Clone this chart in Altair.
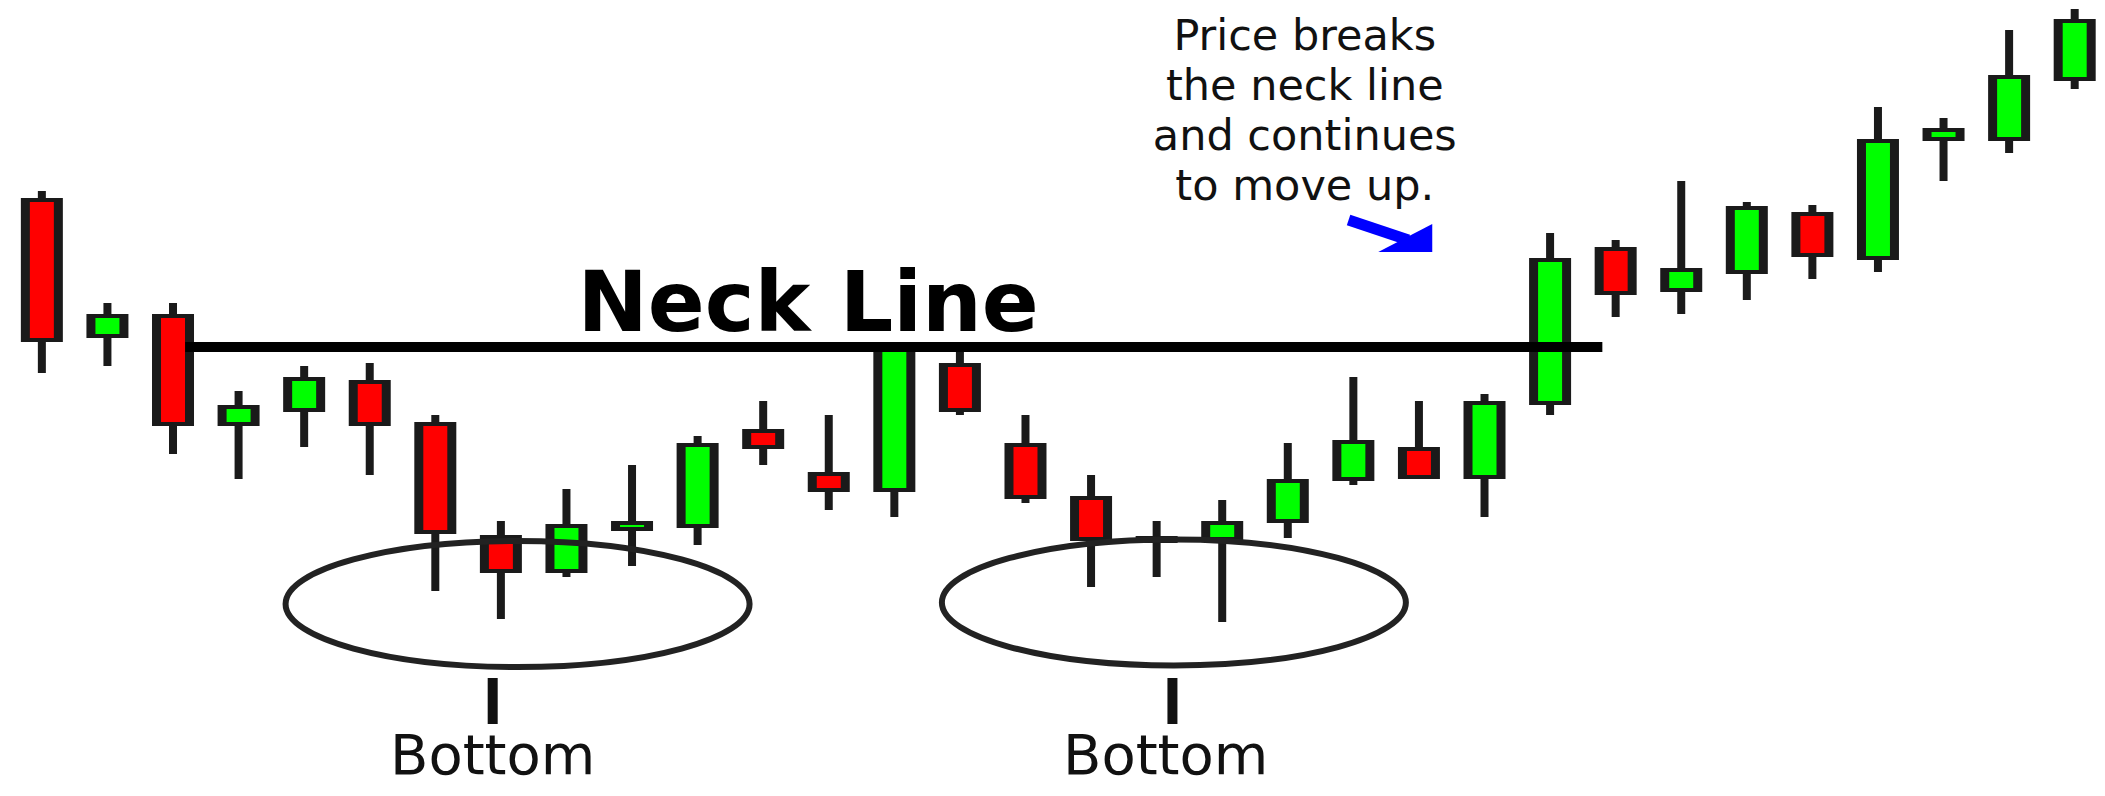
import altair as alt
import pandas as pd

# ---- candle data (arbitrary price units, higher = up) ----
candle = list(range(1, 33))
open_p = [602, 462, 486, 374, 388, 420, 378, 265, 227, 269, 272, 371, 328, 308, 437, 357,
          304, 264, 259, 277, 319, 353, 321, 395, 553, 508, 526, 588, 540, 659, 659, 719]
high_p = [609, 497, 497, 409, 434, 437, 385, 279, 311, 335, 364, 399, 385, 455, 450, 385,
          325, 279, 300, 357, 423, 399, 406, 567, 560, 619, 598, 595, 693, 682, 770, 791]
low_p = [427, 434, 346, 321, 353, 325, 209, 181, 223, 234, 255, 335, 290, 283, 385, 297,
         213, 223, 178, 262, 315, 321, 283, 385, 483, 486, 500, 521, 528, 619, 647, 711]
close_p = [458, 486, 374, 395, 423, 374, 266, 227, 276, 279, 357, 351, 308, 453, 388, 301,
           259, 257, 279, 321, 360, 321, 399, 542, 505, 532, 594, 543, 661, 672, 725, 781]

# ---- annotation texts ----
neck_label = "Neck Line"
note_lines = ["Price breaks", "the neck line", "and continues", "to move up."]
bottom_label = "Bottom"

# ---- annotation anchors (data coordinates: candle index, price) ----
neck_level = 453
neck_from, neck_to = 3.1855, 24.797
bottom_x = [8.2545, 18.263]
bottom_y = [196, 197.5]
stem_x = [7.875, 18.241]
label_x = [7.875, 18.138]
note_y = [750, 700, 650, 600]

df = pd.DataFrame({"candle": candle, "open": open_p, "high": high_p,
                   "low": low_p, "close": close_p})
df["top"] = df[["open", "close"]].max(axis=1)
df["bot"] = df[["open", "close"]].min(axis=1)
df["direction"] = ["up" if c > o else "down" for o, c in zip(open_p, close_p)]


def xs():
    return alt.Scale(domain=[0.5599, 32.264], nice=False, zero=False)


def ys():
    return alt.Scale(domain=[12, 792], nice=False, zero=False)


def X(f):
    return alt.X(f, scale=xs(), axis=None)


def Y(f):
    return alt.Y(f, scale=ys(), axis=None)


base = alt.Chart(df)

wicks = base.mark_rule(color="#1a1a1a", strokeWidth=8).encode(
    x=X("candle:Q"), y=Y("low:Q"), y2="high:Q")

outer = base.mark_bar(size=42, color="#1a1a1a").encode(
    x=X("candle:Q"), y=Y("top:Q"), y2="bot:Q")

inner = base.transform_filter("datum.top - datum.bot > 8").mark_bar(
    size=24, yOffset=4, y2Offset=-4).encode(
    x=X("candle:Q"), y=Y("top:Q"), y2="bot:Q",
    color=alt.Color("direction:N",
                    scale=alt.Scale(domain=["up", "down"], range=["#00ff00", "#ff0000"]),
                    legend=None))

neck_df = pd.DataFrame({"x": [neck_from], "x2": [neck_to], "y": [neck_level]})
neck = alt.Chart(neck_df).mark_rule(color="#000000", strokeWidth=10).encode(
    x=X("x:Q"), x2="x2:Q", y=Y("y:Q"))

neck_text_df = pd.DataFrame({"x": [12.686], "y": [469], "t": [neck_label]})
neck_text = alt.Chart(neck_text_df).mark_text(
    font="DejaVu Sans", fontWeight="bold", fontSize=84, color="#000000",
    align="center", baseline="alphabetic").encode(
    x=X("x:Q"), y=Y("y:Q"), text="t:N")

k = 0.2716
c = 0.5523
ellipse_path = (
    f"M -1 0 C -1 {-k*c:.4f} {-c} {-k} 0 {-k} "
    f"C {c} {-k} 1 {-k*c:.4f} 1 0 "
    f"C 1 {k*c:.4f} {c} {k} 0 {k} "
    f"C {-c} {k} -1 {k*c:.4f} -1 0 Z"
)
ell_df = pd.DataFrame({"x": bottom_x, "y": bottom_y})
ellipses = alt.Chart(ell_df).mark_point(
    shape=ellipse_path, size=464 * 464, filled=False, color="#222222",
    strokeWidth=6, opacity=1).encode(x=X("x:Q"), y=Y("y:Q"))

stem_df = pd.DataFrame({"x": stem_x, "y": [122, 122], "y2": [76, 76]})
stems = alt.Chart(stem_df).mark_rule(color="#111111", strokeWidth=10).encode(
    x=X("x:Q"), y=Y("y:Q"), y2="y2:Q")

blabel_df = pd.DataFrame({"x": label_x, "y": [26, 26], "t": [bottom_label, bottom_label]})
blabels = alt.Chart(blabel_df).mark_text(
    font="DejaVu Sans", fontSize=56, color="#111111",
    align="center", baseline="alphabetic").encode(
    x=X("x:Q"), y=Y("y:Q"), text="t:N")

note_df = pd.DataFrame({"x": [20.259] * 4, "y": note_y, "t": note_lines})
notes = alt.Chart(note_df).mark_text(
    font="DejaVu Sans", fontSize=43, color="#111111",
    align="center", baseline="alphabetic").encode(
    x=X("x:Q"), y=Y("y:Q"), text="t:N")

shaft_df = pd.DataFrame({"x": [20.927], "y": [580], "x2": [21.838], "y2": [560]})
shaft = alt.Chart(shaft_df).mark_rule(color="#0000ff", strokeWidth=11).encode(
    x=X("x:Q"), y=Y("y:Q"), x2="x2:Q", y2="y2:Q")

head_path = "M 0.64 -0.64 L 0.64 0.48 L -1.52 0.48 Z"
head_df = pd.DataFrame({"x": [21.959], "y": [560]})
head = alt.Chart(head_df).mark_point(
    shape=head_path, size=2500, filled=True, color="#0000ff",
    strokeWidth=0, opacity=1).encode(x=X("x:Q"), y=Y("y:Q"))

chart = alt.layer(
    wicks, outer, inner, neck, ellipses, stems, neck_text, blabels, notes, shaft, head
).properties(
    width=2089, height=780,
    autosize=alt.AutoSizeParams(type="none"),
    padding=0,
    background="#ffffff",
).configure_view(stroke=None)

chart.save("out.html", embed_options={"renderer": "svg", "actions": False})
